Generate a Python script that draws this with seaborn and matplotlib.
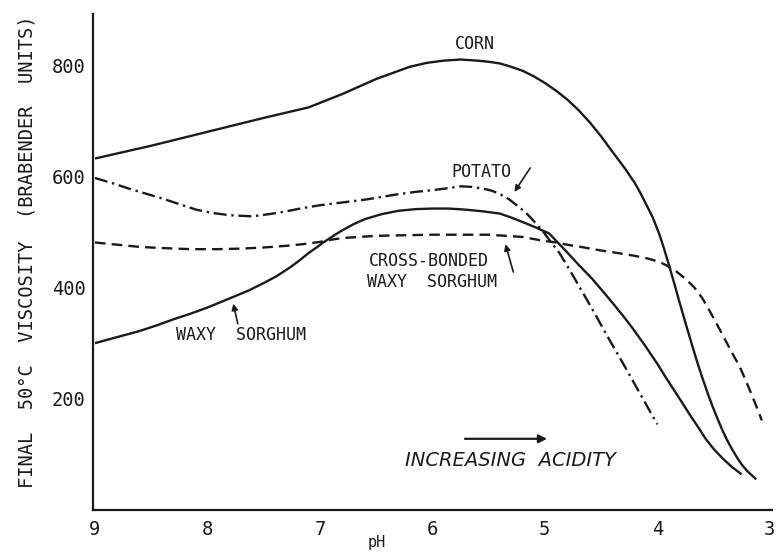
import matplotlib
matplotlib.use("Agg")
import matplotlib.pyplot as plt
import seaborn as sns
import pandas as pd

# Final 50 °C Brabender viscosity versus pH for four starches
corn_ph = [9.0, 8.5, 8.0, 7.5, 7.1, 6.8, 6.5, 6.2, 6.05, 5.9, 5.75, 5.6, 5.5,
           5.4, 5.3, 5.2, 5.1, 5.0, 4.9, 4.8, 4.7, 4.6, 4.5, 4.42, 4.35, 4.28,
           4.2, 4.15, 4.1, 4.04, 3.98, 3.94, 3.9, 3.85, 3.8, 3.75, 3.69, 3.64,
           3.6, 3.55, 3.51, 3.46, 3.42, 3.38, 3.34, 3.29, 3.25, 3.2, 3.12]
corn_visc = [632, 655, 680, 705, 724, 748, 775, 797, 804, 808, 810, 808, 806,
             803, 797, 790, 780, 768, 754, 738, 719, 697, 672, 650, 631, 612,
             588, 570, 550, 526, 495, 470, 443, 408, 372, 337, 296, 263,
             238, 209, 187, 162, 143, 126, 111, 94, 82, 70, 55]

potato_ph = [9.0, 8.85, 8.7, 8.55, 8.4, 8.25, 8.1, 7.95, 7.8, 7.6, 7.45, 7.3,
             7.15, 7.0, 6.8, 6.6, 6.45, 6.3, 6.15, 6.0, 5.85, 5.75, 5.65, 5.55,
             5.47, 5.4, 5.32, 5.25, 5.17, 5.1, 5.02, 4.95, 4.87, 4.78, 4.7,
             4.6, 4.5, 4.42, 4.3, 4.2, 4.1, 4.0]
potato_visc = [597, 588, 578, 569, 560, 550, 540, 534, 530, 528, 532, 537,
               543, 548, 553, 558, 563, 568, 572, 575, 579, 582, 581, 578,
               574, 568, 559, 548, 535, 520, 502, 483, 462, 432, 404,
               369, 333, 304, 262, 226, 190, 154]

xb_ph = [9.0, 8.8, 8.6, 8.4, 8.15, 7.9, 7.7, 7.5, 7.3, 7.15, 7.0, 6.9, 6.8, 6.65,
         6.5, 6.25, 6.0, 5.75, 5.5, 5.35, 5.2, 5.04, 4.9, 4.8, 4.65, 4.51, 4.35,
         4.2, 4.08, 3.98, 3.92, 3.85, 3.8, 3.74, 3.67, 3.6, 3.54, 3.48, 3.42,
         3.37, 3.32, 3.27, 3.22, 3.17, 3.12, 3.07]
xb_visc = [481, 477, 473, 471, 469, 469, 470, 472, 475, 478, 482, 486, 489, 491,
           493, 494, 495, 495, 495, 493, 491, 485, 481, 477, 472, 467, 462,
           457, 452, 446, 440, 432, 424, 414, 400, 381, 360, 338, 315,
           296, 277, 259, 236, 212, 187, 161]

waxy_ph = [9.0, 8.8, 8.6, 8.45, 8.3, 8.15, 8.0, 7.88, 7.76, 7.63, 7.5, 7.38,
           7.26, 7.18, 7.1, 7.03, 6.97, 6.88, 6.8, 6.7, 6.6, 6.45, 6.3, 6.15,
           6.0, 5.85, 5.7, 5.55, 5.4, 5.3, 5.2, 5.08, 4.96, 4.88, 4.8, 4.7,
           4.58, 4.5, 4.4, 4.3, 4.22, 4.1, 4.0, 3.92, 3.83, 3.76, 3.7, 3.63,
           3.57, 3.5, 3.42, 3.34, 3.25]
waxy_visc = [300, 311, 322, 332, 343, 353, 364, 374, 384, 395, 408, 421,
             437, 449, 462, 472, 481, 493, 503, 514, 523, 532, 538, 541,
             542, 542, 540, 537, 533, 526, 518, 508, 497, 480, 463, 441,
             416, 397, 373, 348, 327, 293, 263, 237, 209, 187, 168, 147,
             128, 110, 93, 78, 64]

x_ticks = [9, 8, 7, 6, 5, 4, 3]
y_major = [200, 400, 600, 800]
y_minor = [100, 300, 500, 700]

sns.set_theme(style="white")
plt.rcParams["font.family"] = ["DejaVu Sans Mono", "DejaVu Sans"]

fig = plt.figure(figsize=(7.79, 5.53), dpi=100)
ax = fig.add_axes([0.119, 0.0778, 0.872, 0.897])

ink = "#1a1a1a"
lw = 1.7


def draw(ph, visc):
    df = pd.DataFrame({"pH": ph, "visc": visc})
    sns.lineplot(data=df, x="pH", y="visc", ax=ax, sort=False, color=ink,
                 linewidth=lw, estimator=None)
    return ax.lines[-1]


draw(corn_ph, corn_visc)
draw(waxy_ph, waxy_visc)
draw(potato_ph, potato_visc).set_dashes([5.5, 2.0, 1.0, 2.0])
draw(xb_ph, xb_visc).set_dashes([4.5, 2.6])
for ln in ax.lines:
    ln.set_solid_capstyle("butt")
    ln.set_solid_joinstyle("round")

ax.set_xlim(9.02, 2.98)
ax.set_ylim(0, 892)

for side in ("top", "right"):
    ax.spines[side].set_visible(False)
for side in ("left", "bottom"):
    ax.spines[side].set_color(ink)
    ax.spines[side].set_linewidth(1.6)

ax.set_xticks(x_ticks)
ax.set_xticklabels([str(t) for t in x_ticks])
ax.set_yticks(y_major)
ax.set_yticklabels([str(t) for t in y_major])
ax.set_yticks(y_minor, minor=True)
ax.tick_params(axis="both", which="both", direction="in", length=5, width=1.3,
               color=ink, labelsize=13.5, labelcolor=ink)
ax.tick_params(axis="x", pad=7)
ax.tick_params(axis="y", pad=5)

ax.set_xlabel("pH", fontsize=11, color=ink)
ax.xaxis.set_label_coords(0.418, -0.066)
ax.xaxis.label.set_va("center")
ax.set_ylabel("FINAL  50°C  VISCOSITY  (BRABENDER  UNITS)", fontsize=13.5,
              color=ink)
ax.yaxis.set_label_coords(-0.097, 0.52)
ax.yaxis.label.set_va("center")

lab = dict(fontsize=12, color=ink, ha="center", va="center")
ax.text(5.62, 838, "CORN", **lab)
ax.text(5.56, 608, "POTATO", **lab)
ax.text(6.03, 448, "CROSS-BONDED", **lab)
ax.text(6.0, 410, "WAXY  SORGHUM", **lab)
ax.text(7.70, 314, "WAXY  SORGHUM", **lab)
ax.text(5.31, 89, "INCREASING  ACIDITY", fontsize=14, color=ink, ha="center",
        va="center", style="italic", family=["DejaVu Sans"])

arrow = dict(arrowstyle="-|>", color=ink, lw=1.2, mutation_scale=9,
             shrinkA=0, shrinkB=0)
ax.annotate("", xy=(5.27, 572), xytext=(5.13, 615), arrowprops=arrow)
ax.annotate("", xy=(5.35, 478), xytext=(5.28, 428), arrowprops=arrow)
ax.annotate("", xy=(7.77, 371), xytext=(7.73, 335), arrowprops=arrow)
ax.annotate("", xy=(4.98, 128), xytext=(5.71, 128),
            arrowprops=dict(arrowstyle="-|>", color=ink, lw=1.6,
                            mutation_scale=12, shrinkA=0, shrinkB=0))

fig.savefig("out.png", dpi=100)
